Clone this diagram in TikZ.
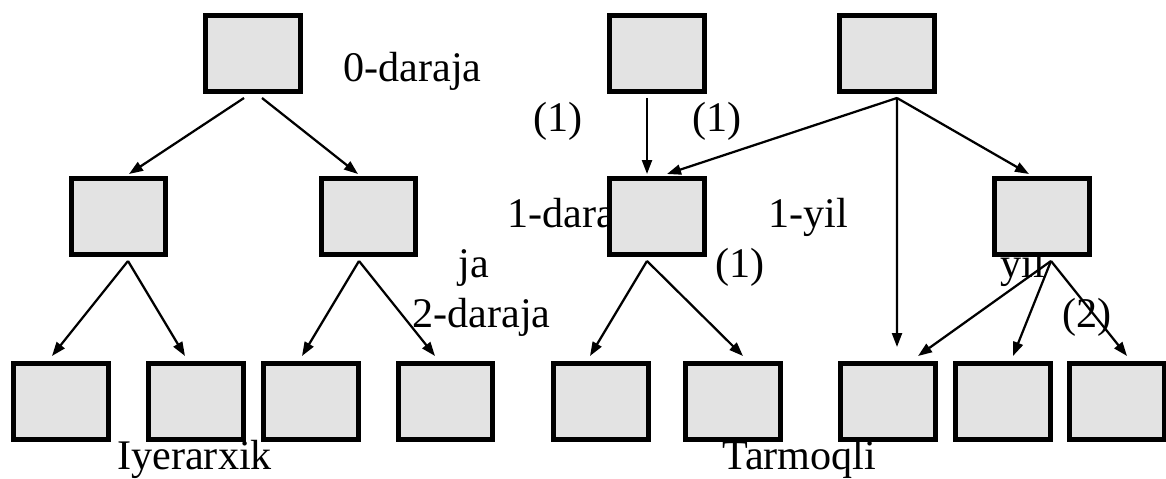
\documentclass[tikz,border=0pt]{standalone}
\usepackage{fontspec}
\setmainfont{Liberation Serif}
\usetikzlibrary{arrows.meta,calc}

\definecolor{boxgray}{HTML}{E3E3E3}
\tikzset{
	box/.style={draw,line width=0.1cm,fill=boxgray,minimum width=1.9cm,minimum height=1.52cm,inner sep=0pt},
	arr/.style={line width=0.045cm,-{Triangle[length=0.28cm,width=0.2cm]}},
	lbl/.style={anchor=base west,inner sep=0pt,font=\fontsize{24}{28}\selectfont}
}

\begin{document}
\begin{tikzpicture}[x=0.02cm,y=-0.02cm]
		\useasboundingbox (0,0) rectangle (1166,479);

		% Labels (under the boxes)
		\node[lbl] (lev0) at (343,82) {0-daraja};
		\node[lbl] (lev1) at (507,228) {1-dara};
		\node[lbl] (lev1b) at (458,278) {ja};
		\node[lbl] (lev2) at (412,328) {2-daraja};
		\node[lbl] (w1) at (533,132) {(1)};
		\node[lbl] (w2) at (692,132) {(1)};
		\node[lbl] (yr1) at (768,228) {1-yil};
		\node[lbl] (w3) at (715,278) {(1)};
		\node[lbl] (yr2) at (1000,278) {yil};
		\node[lbl] (w4) at (1062,328) {(2)};
		\node[lbl] (hier) at (117,469) {Iyerarxik};
		\node[lbl] (net) at (722,469) {Tarmoqli};

		% Hierarchical tree
		\node[box] (h0) at (253,53.5) {};
		\node[box] (h1a) at (118.5,216.5) {};
		\node[box] (h1b) at (368.5,216.5) {};
		\foreach \x/\n in {61/h2a,196/h2b,311/h2c,445.5/h2d} {
				\node[box] (\n) at (\x,401.5) {};
			}

		% Network
		\node[box] (n0a) at (657,53.5) {};
		\node[box] (n0b) at (887,53.5) {};
		\node[box] (n1a) at (657,216.5) {};
		\node[box] (n1b) at (1041.5,216.5) {};
		\foreach \x/\n in {601/n2a,733/n2b,887.5/n2c,1002.5/n2d,1116.5/n2e} {
				\node[box] (\n) at (\x,401.5) {};
			}

		% Arrows, hierarchical
		\draw[arr] ($(h0.south)+(-9,4)$) -- ($(h1a.north)+(10.5,-2)$);
		\draw[arr] ($(h0.south)+(9,4)$) -- ($(h1b.north)+(-10.5,-2)$);
		\draw[arr] ($(h1a.south)+(9.5,4)$) -- ($(h2a.north)+(-9,-5)$);
		\draw[arr] ($(h1a.south)+(9.5,4)$) -- ($(h2b.north)+(-11,-5)$);
		\draw[arr] ($(h1b.south)+(-9.5,4)$) -- ($(h2c.north)+(-9,-5)$);
		\draw[arr] ($(h1b.south)+(-9.5,4)$) -- ($(h2d.north)+(-10.5,-5)$);

		% Arrows, network
		\draw[arr] ($(n0a.south)+(-10,4)$) -- ($(n1a.north)+(-10,-2)$);
		\draw[arr] ($(n0b.south)+(10,4)$) -- ($(n1a.north)+(10,-2)$);
		\draw[arr] ($(n0b.south)+(10,4)$) -- ($(n2c.north)+(9.5,-14)$);
		\draw[arr] ($(n0b.south)+(10,4)$) -- ($(n1b.north)+(-12.5,-2)$);
		\draw[arr] ($(n1a.south)+(-10,4)$) -- ($(n2a.north)+(-11,-5)$);
		\draw[arr] ($(n1a.south)+(-10,4)$) -- ($(n2b.north)+(10,-5)$);
		\draw[arr] ($(n1b.south)+(9.5,4)$) -- ($(n2c.north)+(30.5,-5)$);
		\draw[arr] ($(n1b.south)+(9.5,4)$) -- ($(n2d.north)+(10.5,-5)$);
		\draw[arr] ($(n1b.south)+(9.5,4)$) -- ($(n2e.north)+(10.5,-5)$);
	\end{tikzpicture}
\end{document}
